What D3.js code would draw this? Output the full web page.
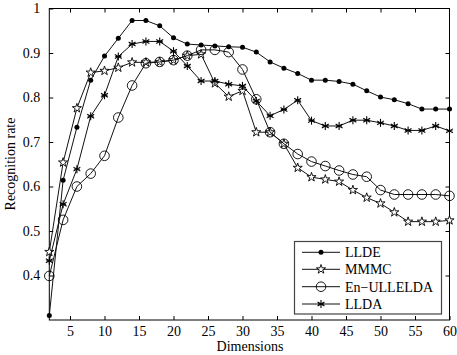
<!DOCTYPE html>
<html><head><meta charset="utf-8">
<script src="https://cdn.jsdelivr.net/npm/d3@7"></script>
<style>body{margin:0;background:#fff}svg{display:block}svg text{font-family:"Times New Roman",Times,"Liberation Serif","DejaVu Serif",serif !important}</style>
</head><body><svg id="c" width="457" height="355"></svg>
<script>
const dims = [2,4,6,8,10,12,14,16,18,20,22,24,26,28,30,32,34,36,38,40,42,44,46,48,50,52,54,56,58,60];
const llde = [0.310,0.614,0.733,0.839,0.893,0.933,0.973,0.973,0.961,0.934,0.920,0.918,0.916,0.914,0.913,0.902,0.880,0.866,0.854,0.839,0.839,0.836,0.830,0.815,0.801,0.795,0.786,0.774,0.774,0.774];
const mmmc = [0.453,0.654,0.776,0.856,0.860,0.867,0.879,0.879,0.880,0.884,0.894,0.897,0.832,0.802,0.815,0.722,0.722,0.696,0.642,0.621,0.616,0.611,0.592,0.575,0.562,0.542,0.521,0.521,0.521,0.524];
const enull = [0.399,0.525,0.600,0.629,0.669,0.755,0.827,0.877,0.880,0.884,0.894,0.907,0.907,0.902,0.863,0.796,0.722,0.696,0.673,0.656,0.646,0.636,0.627,0.622,0.592,0.582,0.582,0.582,0.582,0.579];
const llda = [0.433,0.560,0.639,0.758,0.805,0.892,0.920,0.926,0.926,0.904,0.871,0.837,0.837,0.830,0.826,0.792,0.759,0.773,0.794,0.748,0.736,0.736,0.749,0.749,0.743,0.736,0.726,0.726,0.736,0.725];
const seriesNames = ["LLDE","MMMC","En\u2212ULLELDA","LLDA"];
const xTicks = [5,10,15,20,25,30,35,40,45,50,55,60];
const yTicks = [0.4,0.5,0.6,0.7,0.8,0.9,1];

const FONT = "Times New Roman, Times, Liberation Serif, DejaVu Serif, serif";
const svg = d3.select("#c");
const L=49.3, R=449.5, T=8.5, B=320;
const x = d3.scaleLinear().domain([2,60]).range([L,R]);
const y = d3.scaleLinear().domain([0.3,1]).range([B,T]);

const fmt = d => d===1?"1":d3.format(".1f")(d);
function styleAxis(g){
  g.attr("font-family",FONT).attr("font-size",14);
  g.select(".domain").remove();
  g.selectAll("text").attr("font-family",FONT).attr("font-size",14).attr("fill","#000");
}
svg.append("g").attr("transform",`translate(0,${B})`).call(d3.axisBottom(x).tickValues(xTicks).tickSizeInner(-4).tickSizeOuter(0).tickPadding(6)).call(styleAxis);
svg.append("g").attr("transform",`translate(0,${T})`).call(d3.axisTop(x).tickValues(xTicks.slice(0,-1)).tickSizeInner(-4).tickSizeOuter(0).tickFormat("")).call(styleAxis);
svg.append("g").attr("transform",`translate(${L},0)`).call(d3.axisLeft(y).tickValues(yTicks).tickFormat(fmt).tickSizeInner(-4).tickSizeOuter(0).tickPadding(9)).call(styleAxis);
svg.append("g").attr("transform",`translate(${R},0)`).call(d3.axisRight(y).tickValues(yTicks.slice(0,-1)).tickSizeInner(-4).tickSizeOuter(0).tickFormat("")).call(styleAxis);
svg.append("rect").attr("x",L).attr("y",T).attr("width",R-L).attr("height",B-T).attr("fill","none").attr("stroke","#000").attr("stroke-width",1);

svg.append("text").attr("x",250).attr("y",351).attr("text-anchor","middle").attr("font-family",FONT).attr("font-size",14).text("Dimensions");
svg.append("text").attr("transform","translate(15,164) rotate(-90)").attr("text-anchor","middle").attr("font-family",FONT).attr("font-size",14).text("Recognition rate");

const starPath = d3.symbol().type(d3.symbolStar).size(26)();
function marker(g, type, cx, cy){
  const m = g.append("g").attr("transform",`translate(${cx},${cy})`);
  if(type===0) m.append("circle").attr("r",2.5).attr("fill","#000");
  else if(type===1) m.append("path").attr("d",starPath).attr("fill","#fff").attr("stroke","#000").attr("stroke-width",0.9);
  else if(type===2) m.append("circle").attr("r",4.8).attr("fill","none").attr("stroke","#000").attr("stroke-width",0.9);
  else {
    const r=4;
    [0,60,120].forEach(a=>{const t=a*Math.PI/180;
      m.append("line").attr("x1",-r*Math.sin(t)).attr("y1",-r*Math.cos(t)).attr("x2",r*Math.sin(t)).attr("y2",r*Math.cos(t)).attr("stroke","#000").attr("stroke-width",1.1);});
    m.append("line").attr("x1",-3).attr("x2",3).attr("y1",0).attr("y2",0).attr("stroke","#000").attr("stroke-width",1.1);
  }
}
const all=[llde,mmmc,enull,llda];
const line = d3.line().x((d,i)=>x(dims[i])).y(d=>y(d));
all.forEach((s,k)=>{
  const g=svg.append("g");
  g.append("path").attr("d",line(s)).attr("fill","none").attr("stroke","#111").attr("stroke-width",1);
  s.forEach((v,i)=>marker(g,k,x(dims[i]),y(v)));
});

const lg = svg.append("g");
lg.append("rect").attr("x",294.5).attr("y",241.5).attr("width",147).attr("height",72.5).attr("fill","#fff").attr("stroke","#444").attr("stroke-width",1.2);
const ly=[252.3,269.3,286.7,304];
seriesNames.forEach((n,k)=>{
  lg.append("line").attr("x1",302).attr("x2",340).attr("y1",ly[k]).attr("y2",ly[k]).attr("stroke","#111");
  marker(lg,k,321,ly[k]);
  lg.append("text").attr("x",345).attr("y",ly[k]+4.8).attr("font-family",FONT).attr("font-size",14).text(n);
});
</script></body></html>
